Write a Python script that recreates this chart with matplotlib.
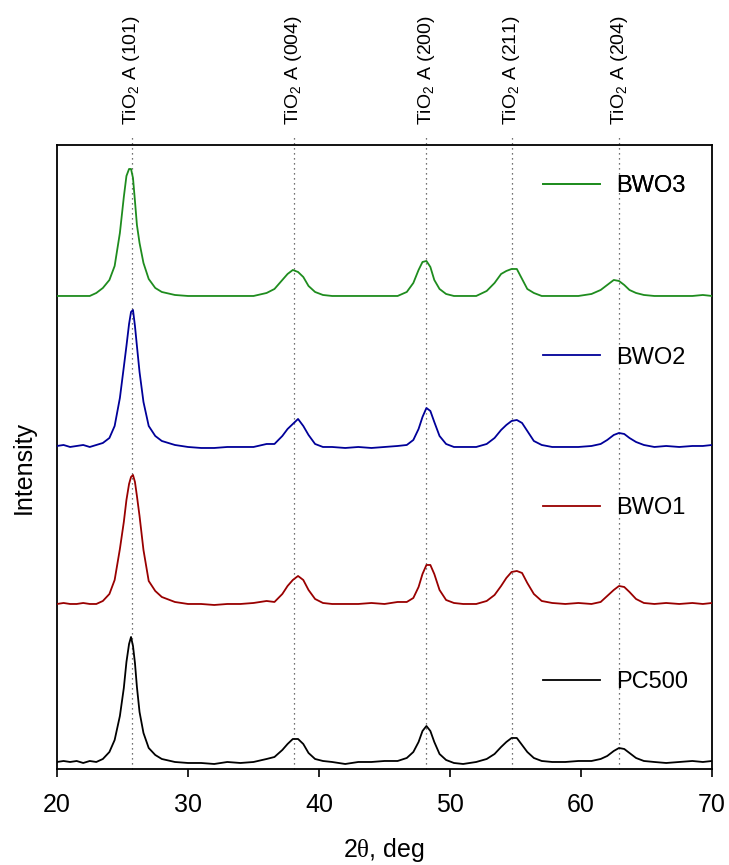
import matplotlib
matplotlib.use('Agg')
import matplotlib.pyplot as plt

plt.rcParams['font.family'] = ['Liberation Sans', 'DejaVu Sans']
plt.rcParams['mathtext.fontset'] = 'custom'
plt.rcParams['mathtext.rm'] = 'Liberation Serif'
plt.rcParams['mathtext.sf'] = 'Liberation Sans'

# shared 2-theta grid (deg)
two_theta = [20.0, 20.5, 21.0, 21.5, 22.0, 22.5, 23.0,
             23.5, 24.0, 24.4, 24.8, 25.1, 25.3, 25.5, 25.65, 25.8, 25.95, 26.1, 26.3, 26.6, 27.0, 27.5, 28.0,
             29, 30, 31, 32, 33, 34, 35, 36,
             36.6, 37.2, 37.6, 38.0, 38.4, 38.8, 39.2, 39.7, 40.3, 41.0,
             42, 43, 44, 45, 46,
             46.7, 47.2, 47.6, 47.9, 48.2, 48.5, 48.8, 49.2, 49.7, 50.3, 51.0,
             52.0, 52.8, 53.4, 53.9, 54.3, 54.7, 55.1, 55.5, 55.9, 56.4, 57.0, 57.8,
             58.8, 59.8, 60.8, 61.5, 62.0, 62.5, 62.9, 63.3, 63.7, 64.2, 64.8, 65.6,
             66.5, 67.5, 68.5, 69.3, 70.0]

pc500 = [0, 1, 0, 1, -1, 1, 0,
         3, 10, 22, 46, 74, 100, 118, 125, 116, 99, 75, 50, 29, 14, 7, 3,
         0, -1, -1, -2, 0, -1, 0, 3,
         5, 12, 18, 23, 23, 18, 9, 3, 1, 0,
         -2, 0, 0, 1, 1,
         4, 10, 20, 31, 36, 31, 20, 8, 2, -1, -2,
         0, 3, 8, 15, 20, 24, 24, 17, 10, 4, 1, 0,
         0, 1, 1, 3, 6, 11, 14, 13, 9, 4, 1, 0,
         -1, 0, 1, 0, 1]

bwo1 = [0, 1, 0, 0, 1, 0, 0,
        3, 10, 24, 55, 82, 104, 120, 127, 129, 122, 108, 88, 54, 23, 13, 7,
        2, 0, 0, -1, 0, 0, 1, 3,
        2, 10, 18, 24, 28, 24, 14, 5, 1, 0,
        0, 0, 1, 0, 2,
        2, 6, 17, 30, 39, 39, 30, 14, 4, 1, 0,
        0, 3, 9, 18, 26, 32, 33, 31, 21, 10, 3, 1,
        0, 1, 0, 2, 8, 14, 18, 17, 12, 5, 1, 0,
        1, 0, 1, 0, 1]

bwo2 = [0, 1, -1, 0, 1, -1, 1,
        3, 8, 20, 48, 79, 100, 122, 134, 136, 120, 100, 74, 44, 20, 10, 5,
        1, -1, -2, -2, -1, -1, -1, 2,
        2, 10, 17, 22, 27, 20, 11, 2, -1, -1,
        -2, -1, -2, -1, 0,
        1, 6, 17, 29, 38, 35, 24, 10, 2, -1, -1,
        -1, 2, 8, 16, 21, 25, 26, 23, 15, 5, 1, -1,
        -1, -1, 0, 2, 6, 11, 13, 12, 8, 4, 1, -1,
        0, -1, 0, 0, 1]

bwo3 = [0, 0, 0, 0, 0, 0, 3,
        8, 16, 30, 63, 99, 120, 127, 127, 118, 95, 71, 53, 33, 17, 8, 4,
        1, 0, 0, 0, 0, 0, 0, 3,
        7, 16, 22, 26, 24, 19, 10, 4, 1, 0,
        0, 0, 0, 0, 0,
        4, 13, 26, 34, 35, 29, 16, 7, 2, 0, 0,
        0, 5, 13, 22, 25, 27, 27, 17, 7, 3, 0, 0,
        0, 0, 2, 6, 11, 16, 15, 11, 6, 3, 1, 0,
        0, 0, 0, 1, 0]

samples = ['PC500', 'BWO1', 'BWO2', 'BWO3']
patterns = [pc500, bwo1, bwo2, bwo3]
offsets = [7, 165, 323, 473]
colors = ['black', '#990000', '#000099', '#1e8c1e']

peak_pos = [25.7, 38.07, 48.2, 54.7, 62.9]
peak_hkl = ['(101)', '(004)', '(200)', '(211)', '(204)']

legend_y = [0.139, 0.418, 0.659, 0.934]

fig = plt.figure(figsize=(7.29, 8.65), dpi=100)
ax = fig.add_axes([0.0782, 0.111, 0.8985, 0.7214])

for p, hkl in zip(peak_pos, peak_hkl):
    ax.axvline(p, ymin=0, ymax=1.018, color='#444444', ls=(0, (1, 3)),
               lw=0.9, clip_on=False, zorder=1)
    ax.text(p, 1.032, 'TiO$_\\mathsf{2}$ A ' + hkl, rotation=90, ha='center',
            va='bottom', fontsize=14, transform=ax.get_xaxis_transform())

lines = []
for name, y, off, c in zip(samples, patterns, offsets, colors):
    ln, = ax.plot(two_theta, [v + off for v in y], color=c, lw=1.3, label=name, zorder=3)
    lines.append(ln)

for ln, ly in zip(lines, legend_y):
    leg = ax.legend(handles=[ln], loc='center left', bbox_to_anchor=(0.742, ly),
                    frameon=False, fontsize=17, handlelength=2.4, handletextpad=0.7,
                    borderpad=0, borderaxespad=0)
    ax.add_artist(leg)

ax.set_xlim(20, 70)
ax.set_ylim(0, 624)
ax.set_yticks([])
ax.set_xticks([20, 30, 40, 50, 60, 70])
ax.tick_params(axis='x', direction='out', length=6, width=1.2, labelsize=18, pad=11)
for s in ax.spines.values():
    s.set_linewidth(1.3)

fig.text(0.527, 0.0173, '2$\\mathrm{\\theta}$, deg', ha='center', va='center', fontsize=18)
fig.text(0.033, 0.46, 'Intensity', ha='center', va='center', rotation=90, fontsize=18)

fig.savefig('out.png', dpi=100)
